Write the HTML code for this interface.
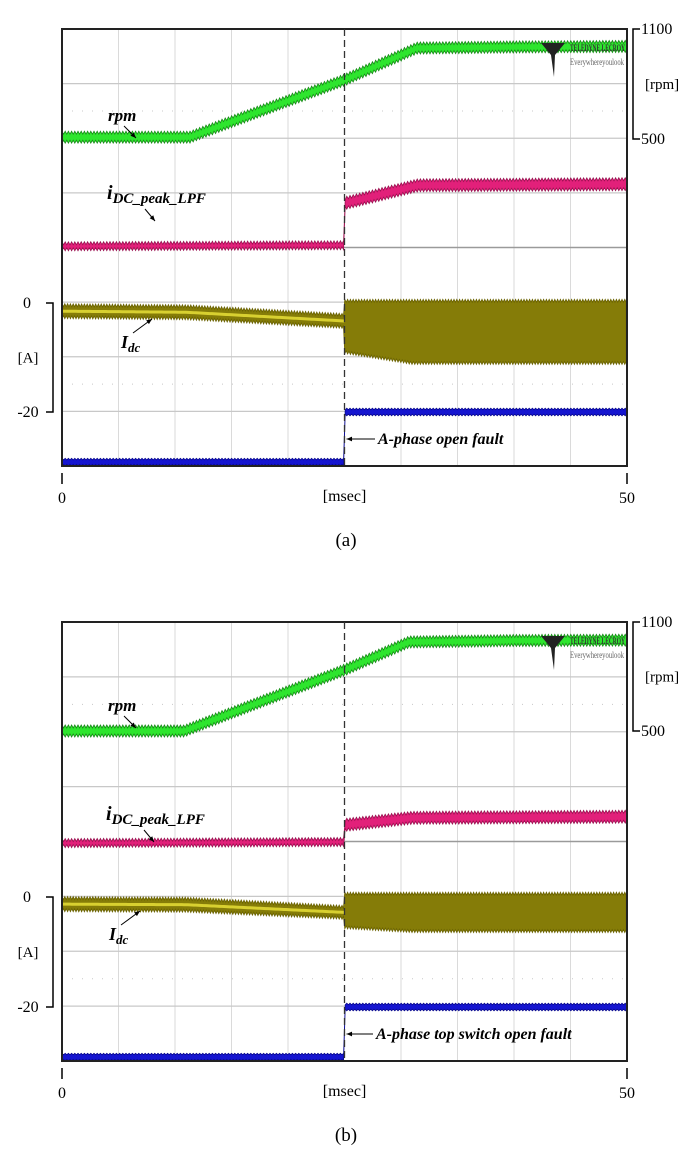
<!DOCTYPE html>
<html><head><meta charset="utf-8"><style>
body{margin:0;background:#fff}
svg{display:block}
text{font-family:"Liberation Serif",serif}
</style></head><body>
<svg id="svg" width="694" height="1165" viewBox="0 0 694 1165" xmlns="http://www.w3.org/2000/svg"></svg>
<script>
// ---- data (time in ms) ----
const rpmTimesA = [0, 11.3, 25, 31.4, 40, 50];
const rpmValuesA = [510, 510, 822, 996, 1002, 1005];
const pinkTimesA = [0, 25, 25.01, 31.5, 50];
const pinkValuesA = [10.4, 10.6, 18.3, 21.6, 21.8];
const idcTimesA = [0, 11, 25, 25.01, 31, 50];
const idcUpperA = [-0.4, -0.6, -2.2, 0.4, 0.4, 0.4];
const idcLowerA = [-2.6, -2.8, -4.4, -9, -11, -11];
const blueTimesA = [0, 25, 25.01, 50];
const blueValuesA = [-29.2, -29.2, -20, -20];

const rpmTimesB = [0, 10.8, 25, 30.7, 40, 50];
const rpmValuesB = [500, 500, 836, 990, 998, 1000];
const pinkTimesB = [0, 25, 25.01, 31, 50];
const pinkValuesB = [9.8, 10, 13.1, 14.4, 14.6];
const idcTimesB = [0, 11, 25, 25.01, 31, 50];
const idcUpperB = [-0.2, -0.3, -1.8, 0.6, 0.6, 0.6];
const idcLowerB = [-2.4, -2.5, -3.8, -5.5, -6.2, -6.2];
const blueTimesB = [0, 25, 25.01, 50];
const blueValuesB = [-29.1, -29.1, -20, -20];

const xTickLabels = ["0", "50"];
const rpmTickLabels = ["1100", "500"];
const ampTickLabels = ["0", "-20"];

const NS = "http://www.w3.org/2000/svg";
const svg = document.getElementById("svg");
function mk(tag, attrs, parent) {
  const e = document.createElementNS(NS, tag);
  for (const k in attrs) e.setAttribute(k, attrs[k]);
  (parent || svg).appendChild(e);
  return e;
}
function interp(ts, vs, t) {
  if (t <= ts[0]) return vs[0];
  for (let i = 1; i < ts.length; i++) {
    if (t <= ts[i]) { const f = (t - ts[i-1]) / (ts[i] - ts[i-1]); return vs[i-1] + f * (vs[i] - vs[i-1]); }
  }
  return vs[vs.length - 1];
}

function panel(P) {
  const g = mk("g", {});
  
  
  const L = 62, R = 627, T = P.top, B = P.bottom;
  const xS = t => L + (t / 50) * (R - L);
  const yRpm = v => P.rpm500 - (v - 500) * (P.rpm500 - T) / 600;
  const yA = v => P.amp0 - v * (P.amp20 - P.amp0) / 20;
  const rowH = (B - T) / 8, colW = (R - L) / 10;
  const grid = mk("g", {}, g);
  
  
  for (let i = 1; i < 10; i++) { if (i === 5) continue; mk("line", {x1: L + i*colW, x2: L + i*colW, y1: T, y2: B, stroke: "#dadada", "stroke-width": 1}, grid); }
  for (let i = 1; i < 8; i++) mk("line", {x1: L, x2: R, y1: T + i*rowH, y2: T + i*rowH, stroke: i === 4 ? "#9a9a9a" : "#c8c8c8", "stroke-width": i === 4 ? 1.5 : 1.3}, grid);
  [T + 1.5*rowH, T + 6.5*rowH].forEach(y => mk("line", {x1: L, x2: R, y1: y, y2: y, stroke: "#c8c8c8", "stroke-width": 1, "stroke-dasharray": "1 9"}, grid));

  function band(up, lo, fill, edge, name, step, amp) {
    let top = [], bot = [], k = 0;
    for (let x = L; x <= R; x += step, k++) {
      const t = (x - L) / (R - L) * 50;
      const s = (k % 2 ? amp : -amp);
      top.push([x, up(t) + s]); bot.push([x, lo(t) - s]);
    }
    const pts = top.concat(bot.reverse()).map(p => p[0].toFixed(1) + "," + p[1].toFixed(1)).join(" ");
    const e = mk("polygon", {points: pts, fill: fill, stroke: edge, "stroke-width": 0.8}, g);
    
    
  }
  band(t => yRpm(interp(P.rpmT, P.rpmV, t)) - 4.5, t => yRpm(interp(P.rpmT, P.rpmV, t)) + 4.5, "#2ee52e", "#178a17", "rpm-trace", 1.6, 1.5);
  band(t => yA(interp(P.pinkT, P.pinkV, t)) - (t > 25 ? 5 : 3), t => yA(interp(P.pinkT, P.pinkV, t)) + (t > 25 ? 5 : 3), "#e2207a", "#9a1050", "idc-peak-lpf-trace", 1.6, 1.5);
  band(t => yA(interp(P.idcT, P.idcU, t)), t => yA(interp(P.idcT, P.idcL, t)), "#857c08", "#6a6200", "idc-trace", 1.4, 1.5);
  {
    let pts = [];
    for (let x = L; x <= xS(25); x += 2) { const t = (x - L) / (R - L) * 50; pts.push([x, (yA(interp(P.idcT, P.idcU, t)) + yA(interp(P.idcT, P.idcL, t))) / 2]); }
    const e = mk("polyline", {points: pts.map(p => p.join(",")).join(" "), fill: "none", stroke: "#d8d030", "stroke-width": 3}, g);
    
    
  }
  band(t => yA(interp(P.blueT, P.blueV, t)) - 3, t => Math.min(B - 0.5, yA(interp(P.blueT, P.blueV, t)) + 3), "#1515d0", "#0a0a90", "blue-trace", 1.6, 0.8);

  const fr = mk("rect", {x: L, y: T, width: R - L, height: B - T, fill: "none", stroke: "#222", "stroke-width": 2}, g);
  
  
  const dl = mk("line", {x1: xS(25), x2: xS(25), y1: T, y2: B, stroke: "#333", "stroke-width": 1.3, "stroke-dasharray": "7 4"}, g);
  
  

  const rb = mk("path", {d: `M640 ${T} H633 V${P.rpm500} H640`, fill: "none", stroke: "#000", "stroke-width": 1.5}, g);
  
  
  [[T, rpmTickLabels[0]], [P.rpm500, rpmTickLabels[1]]].forEach(([y, s]) => {
    const e = mk("text", {x: 641, y: y + 5, "font-size": 16}, g); e.textContent = s;
    
    
  });
  { const e = mk("text", {x: 645, y: (T + P.rpm500) / 2 + 5, "font-size": 15}, g); e.textContent = "[rpm]";
      }
  const lb = mk("path", {d: `M46 ${P.amp0} H53 V${P.amp20} H46`, fill: "none", stroke: "#000", "stroke-width": 1.5}, g);
  
  
  [[P.amp0, ampTickLabels[0], 27], [P.amp20, ampTickLabels[1], 28]].forEach(([y, s, x]) => {
    const e = mk("text", {x: x, y: y + 5, "font-size": 16, "text-anchor": "middle"}, g); e.textContent = s;
    
    
  });
  { const e = mk("text", {x: 28, y: (P.amp0 + P.amp20) / 2 + 5, "font-size": 15, "text-anchor": "middle"}, g); e.textContent = "[A]";
      }
  [[0, xTickLabels[0]], [50, xTickLabels[1]]].forEach(([t, s]) => {
    mk("line", {x1: xS(t), x2: xS(t), y1: B + 7, y2: B + 18, stroke: "#000", "stroke-width": 1.5}, g);
    const e = mk("text", {x: xS(t), y: B + 37, "font-size": 16, "text-anchor": "middle"}, g); e.textContent = s;
    
    
  });
  { const e = mk("text", {x: xS(25), y: B + 35, "font-size": 16, "text-anchor": "middle"}, g); e.textContent = "[msec]";
      }
  { const e = mk("text", {x: 346, y: B + 80, "font-size": 19, "text-anchor": "middle"}, g); e.textContent = P.cap;
      }

  function arrow(x1, y1, x2, y2) {
    mk("line", {x1, y1, x2, y2, stroke: "#000", "stroke-width": 1}, g);
    const a = Math.atan2(y2 - y1, x2 - x1), s = 6;
    mk("polygon", {points: `${x2},${y2} ${x2 - s*Math.cos(a - 0.4)},${y2 - s*Math.sin(a - 0.4)} ${x2 - s*Math.cos(a + 0.4)},${y2 - s*Math.sin(a + 0.4)}`, fill: "#000"}, g);
  }
  const A = P.ann;
  { const e = mk("text", {x: A.rpm[0], y: A.rpm[1], "font-size": 17, "font-weight": "bold", "font-style": "italic"}, g); e.textContent = "rpm";
      }
  arrow(A.rpm[0] + 16, A.rpm[1] + 5, A.rpm[0] + 28, A.rpm[1] + 17);
  { const e = mk("text", {x: A.pk[0], y: A.pk[1], "font-size": 20, "font-weight": "bold", "font-style": "italic"}, g);
     
    e.textContent = "i";
    const ts = mk("tspan", {dy: 4, "font-size": 15}, e); ts.textContent = "DC_peak_LPF"; }
  arrow(A.pk[0] + 38, A.pk[1] + 10, A.pk[0] + 48, A.pk[1] + 22);
  { const e = mk("text", {x: A.idc[0], y: A.idc[1], "font-size": 18, "font-weight": "bold", "font-style": "italic"}, g);
     
    e.textContent = "I";
    const ts = mk("tspan", {dy: 4, "font-size": 13}, e); ts.textContent = "dc"; }
  arrow(A.idc[0] + 12, A.idc[1] - 15, A.idc[0] + 31, A.idc[1] - 29);
  arrow(A.fault[0] - 3, A.fault[1] - 5, xS(25) + 2, A.fault[1] - 5);
  { const e = mk("text", {x: A.fault[0], y: A.fault[1], "font-size": 16, "font-weight": "bold", "font-style": "italic"}, g); e.textContent = P.faultText;
      }
  { const e = mk("text", {x: 570, y: P.top + 22, "font-size": 9, "font-weight": "bold", fill: "#333", textLength: 55, lengthAdjust: "spacingAndGlyphs", "font-family": "Liberation Sans, sans-serif"}, g); e.textContent = "TELEDYNE LECROY";
      }
  { const e = mk("text", {x: 570, y: P.top + 36, "font-size": 9, fill: "#666", textLength: 54, lengthAdjust: "spacingAndGlyphs", "font-family": "Liberation Sans, sans-serif"}, g); e.textContent = "Everywhereyoulook";
      }
  const lg = mk("polygon", {points: `${541},${P.top + 14} ${565},${P.top + 14} ${555},${P.top + 26} ${554},${P.top + 48} ${551},${P.top + 26}`, fill: "#222"}, g);
  
  
}

panel({name: "panel-a", top: 29, bottom: 466, rpm500: 139, amp0: 303, amp20: 412, cap: "(a)",
  rpmT: rpmTimesA, rpmV: rpmValuesA, pinkT: pinkTimesA, pinkV: pinkValuesA,
  idcT: idcTimesA, idcU: idcUpperA, idcL: idcLowerA, blueT: blueTimesA, blueV: blueValuesA,
  faultText: "A-phase open fault",
  ann: {rpm: [108, 121], pk: [107, 199], idc: [121, 348], fault: [378, 444]}});
panel({name: "panel-b", top: 622, bottom: 1061, rpm500: 731, amp0: 897, amp20: 1007, cap: "(b)",
  rpmT: rpmTimesB, rpmV: rpmValuesB, pinkT: pinkTimesB, pinkV: pinkValuesB,
  idcT: idcTimesB, idcU: idcUpperB, idcL: idcLowerB, blueT: blueTimesB, blueV: blueValuesB,
  faultText: "A-phase top switch open fault",
  ann: {rpm: [108, 711], pk: [106, 820], idc: [109, 940], fault: [376, 1039]}});
</script>
</body></html>
